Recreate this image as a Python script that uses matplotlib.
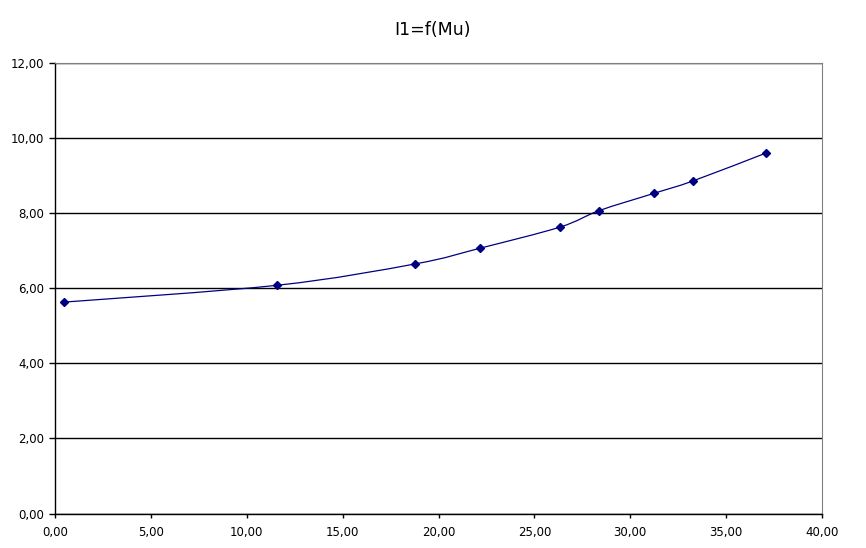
"""I1 as a function of Mu, smoothed line with diamond markers."""

import matplotlib

matplotlib.use("Agg")
import matplotlib.pyplot as plt
from matplotlib.path import Path
from matplotlib.patches import PathPatch
from matplotlib.ticker import FuncFormatter, MultipleLocator

mu = [0.45, 11.60, 18.80, 22.19, 26.34, 28.39, 31.25, 33.28, 37.07]
i1 = [5.63, 6.08, 6.65, 7.07, 7.63, 8.07, 8.53, 8.86, 9.60]

LINE_COLOR = "#000080"


def _smooth_path(xs, ys, tension=1 / 6):
    # Catmull-Rom style bezier through the points, like a spreadsheet "smoothed line"
    verts = [(xs[0], ys[0])]
    codes = [Path.MOVETO]
    n = len(xs)
    for k in range(n - 1):
        x0, y0 = (xs[k - 1], ys[k - 1]) if k > 0 else (xs[k], ys[k])
        x1, y1 = xs[k], ys[k]
        x2, y2 = xs[k + 1], ys[k + 1]
        x3, y3 = (xs[k + 2], ys[k + 2]) if k + 2 < n else (x2, y2)
        c1 = (x1 + (x2 - x0) * tension, y1 + (y2 - y0) * tension)
        c2 = (x2 - (x3 - x1) * tension, y2 - (y3 - y1) * tension)
        verts += [c1, c2, (x2, y2)]
        codes += [Path.CURVE4] * 3
    return Path(verts, codes)


def _comma(value, _pos):
    return f"{value:.2f}".replace(".", ",")


fig = plt.figure(figsize=(8.66, 5.48), dpi=100)
ax = fig.add_axes([55 / 866, 34.5 / 548, 767 / 866, 450.5 / 548])

ax.add_patch(PathPatch(_smooth_path(mu, i1), facecolor="none", edgecolor=LINE_COLOR, linewidth=0.9))
ax.plot(mu, i1, linestyle="none", marker="D", markersize=4, color=LINE_COLOR)

ax.set_xlim(0, 40)
ax.set_ylim(0, 12)
ax.xaxis.set_major_locator(MultipleLocator(5))
ax.yaxis.set_major_locator(MultipleLocator(2))
ax.xaxis.set_major_formatter(FuncFormatter(_comma))
ax.yaxis.set_major_formatter(FuncFormatter(_comma))
ax.grid(axis="y", color="black", linewidth=1.0)
ax.set_axisbelow(True)
ax.tick_params(labelsize=8.5, width=1, direction="out")
ax.tick_params(axis="x", length=3, pad=6)
ax.tick_params(axis="y", length=4.5, pad=3.5)

for side in ("top", "right"):
    ax.spines[side].set_color("#808080")
    ax.spines[side].set_linewidth(0.8)
for side in ("left", "bottom"):
    ax.spines[side].set_color("black")
    ax.spines[side].set_linewidth(1.0)

fig.text(432 / 866, 1 - 30 / 548, "I1=f(Mu)", ha="center", va="center", fontsize=12.5)

fig.savefig("out.png", dpi=100)
